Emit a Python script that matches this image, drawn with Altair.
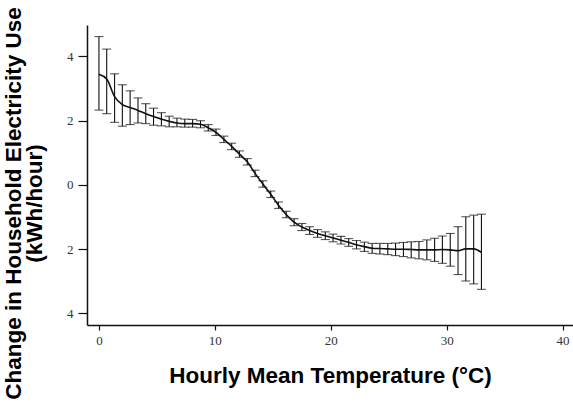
import altair as alt
import pandas as pd

temps = [0.00, 0.67, 1.35, 2.02, 2.69, 3.37, 4.04, 4.71, 5.39, 6.06,
         6.73, 7.41, 8.08, 8.76, 9.43, 10.10, 10.78, 11.45, 12.12, 12.80,
         13.47, 14.14, 14.82, 15.49, 16.16, 16.84, 17.51, 18.18, 18.86, 19.53,
         20.20, 20.88, 21.55, 22.22, 22.90, 23.57, 24.24, 24.92, 25.59, 26.27,
         26.94, 27.61, 28.29, 28.96, 29.63, 30.31, 30.98, 31.65, 32.33, 33.00]

mean = [3.45, 3.30, 2.75, 2.50, 2.41, 2.32, 2.22, 2.13, 2.05, 1.98,
        1.93, 1.91, 1.91, 1.89, 1.78, 1.64, 1.42, 1.20, 0.96, 0.72,
        0.36, 0.03, -0.29, -0.63, -0.92, -1.16, -1.31, -1.42, -1.51, -1.58,
        -1.65, -1.72, -1.79, -1.86, -1.92, -1.97, -1.98, -1.99, -2.00, -2.00,
        -2.01, -2.02, -2.02, -2.02, -2.01, -2.02, -2.05, -1.99, -1.99, -2.10]

upper = [4.62, 4.23, 3.46, 3.12, 2.93, 2.71, 2.53, 2.39, 2.25, 2.14,
         2.08, 2.05, 2.04, 2.00, 1.88, 1.74, 1.52, 1.30, 1.06, 0.82,
         0.46, 0.13, -0.19, -0.53, -0.82, -1.05, -1.20, -1.30, -1.39, -1.46,
         -1.53, -1.60, -1.67, -1.73, -1.78, -1.82, -1.82, -1.82, -1.81, -1.79,
         -1.77, -1.76, -1.71, -1.66, -1.59, -1.51, -1.30, -0.99, -0.94, -0.91]

lower = [2.33, 2.22, 1.95, 1.83, 1.88, 1.93, 1.91, 1.86, 1.84, 1.81,
         1.81, 1.80, 1.80, 1.78, 1.68, 1.54, 1.32, 1.10, 0.86, 0.62,
         0.26, -0.07, -0.39, -0.73, -1.02, -1.27, -1.42, -1.54, -1.63, -1.70,
         -1.77, -1.84, -1.91, -1.99, -2.07, -2.13, -2.15, -2.17, -2.20, -2.23,
         -2.27, -2.30, -2.33, -2.38, -2.44, -2.53, -2.79, -2.99, -3.08, -3.25]

x_ticks = [0, 10, 20, 30, 40]
y_ticks = [-4, -2, 0, 2, 4]

df = pd.DataFrame({"t": temps, "m": mean, "hi": upper, "lo": lower})

xs = alt.Scale(domain=[-1.03, 40.9], nice=False, zero=False)
ys = alt.Scale(domain=[-4.36, 4.98], nice=False, zero=False)

x_axis = alt.Axis(values=x_ticks, title="Hourly Mean Temperature (°C)", grid=False,
                  tickSize=5, labelPadding=4, titleY=57, titleBaseline="alphabetic")
y_axis = alt.Axis(values=y_ticks, title=["Change in Household Electricity Use", "(kWh/hour)"],
                  grid=False, tickSize=9, labelPadding=5,
                  labelExpr="format(abs(datum.value), 'd')",
                  titleX=-62, titleY=178, titleBaseline="bottom", titleAlign="center",
                  titleAngle=-90, titleLineHeight=21)

base = alt.Chart(df)

bars = base.mark_rule(color="#111", strokeWidth=1.1).encode(
    x=alt.X("t:Q", scale=xs, axis=x_axis),
    y=alt.Y("lo:Q", scale=ys, axis=y_axis),
    y2="hi:Q",
)
cap_hi = base.mark_tick(orient="horizontal", size=9, thickness=1.1, color="#111").encode(
    x=alt.X("t:Q", scale=xs), y=alt.Y("hi:Q", scale=ys)
)
cap_lo = base.mark_tick(orient="horizontal", size=9, thickness=1.1, color="#111").encode(
    x=alt.X("t:Q", scale=xs), y=alt.Y("lo:Q", scale=ys)
)
line = base.mark_line(color="#111", strokeWidth=1.6, interpolate="monotone").encode(
    x=alt.X("t:Q", scale=xs), y=alt.Y("m:Q", scale=ys)
)

chart = alt.layer(bars, cap_hi, cap_lo, line).properties(
    width=486, height=300,
    autosize=alt.AutoSizeParams(type="none"),
    padding={"left": 87, "top": 25, "right": 0, "bottom": 81},
).configure_view(stroke=None).configure_axis(
    domainColor="#111", domainWidth=1.5, tickColor="#111", tickWidth=1.2,
    labelFont="Liberation Serif", labelFontSize=13, labelColor="#333",
    titleFont="Liberation Sans", titleFontSize=22.5, titleFontWeight="bold", titleColor="#000",
)

chart.save("out.html", embed_options={"renderer": "svg", "actions": False})
